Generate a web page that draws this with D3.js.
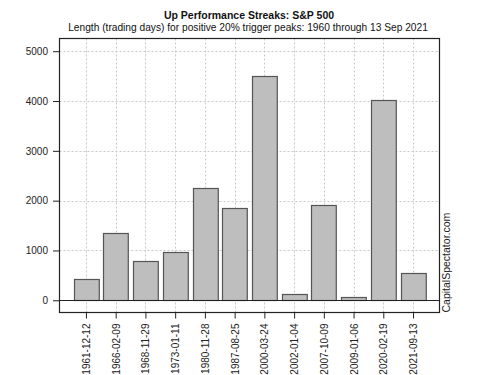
<!DOCTYPE html>
<html>
<head>
<meta charset="utf-8">
<script src="https://cdn.jsdelivr.net/npm/d3@7"></script>
<style>
  body { margin: 0; background: #fff; }
  text { font-family: "Liberation Sans", Arial, sans-serif; }
</style>
</head>
<body>
<script>
// Peak dates and streak lengths (trading days)
var dates = ["1961-12-12", "1966-02-09", "1968-11-29", "1973-01-11", "1980-11-28", "1987-08-25",
             "2000-03-24", "2002-01-04", "2007-10-09", "2009-01-06", "2020-02-19", "2021-09-13"];
var days = [425, 1347, 790, 977, 2260, 1846, 4500, 124, 1913, 64, 4012, 557];
var yTicks = [0, 1000, 2000, 3000, 4000, 5000];

var w = 500, h = 375;
// plot box edges (note: "top" is reserved on window, so use pl/pr/pt/pb)
var pl = 59.5, pr = 439.5, pt = 38.5, pb = 312.5;

var svg = d3.select("body").append("svg")
    .attr("width", w)
    .attr("height", h);

// x in barplot units: bars of width 1 with 0.2 gaps
var xScale = d3.scaleLinear()
    .domain([-0.368, 14.968])
    .range([pl, pr]);

var yScale = d3.scaleLinear()
    .domain([-245, 5255])
    .range([pb, pt]);

function barLeft(i) { return 0.2 + i * 1.2; }
function barMid(i) { return barLeft(i) + 0.5; }

// grid lines (dotted)
svg.append("g").selectAll("line")
    .data(yTicks)
    .enter().append("line")
    .attr("x1", pl).attr("x2", pr)
    .attr("y1", function(d) { return Math.round(yScale(d)) + 0.5; })
    .attr("y2", function(d) { return Math.round(yScale(d)) + 0.5; })
    .attr("stroke", "#c8c8c8")
    .attr("stroke-dasharray", "2,2");

svg.append("g").selectAll("line")
    .data(dates)
    .enter().append("line")
    .attr("x1", function(d, i) { return Math.round(xScale(barMid(i))) + 0.5; })
    .attr("x2", function(d, i) { return Math.round(xScale(barMid(i))) + 0.5; })
    .attr("y1", pt).attr("y2", pb)
    .attr("stroke", "#c8c8c8")
    .attr("stroke-dasharray", "2,2");

// bars
svg.append("g").selectAll("rect")
    .data(days)
    .enter().append("rect")
    .attr("x", function(d, i) { return Math.round(xScale(barLeft(i))) + 0.5; })
    .attr("width", xScale(1) - xScale(0))
    .attr("y", function(d) { return Math.round(yScale(d)) + 0.5; })
    .attr("height", function(d) { return Math.round(yScale(0)) - Math.round(yScale(d)); })
    .attr("fill", "#bebebe")
    .attr("stroke", "#555")
    .attr("stroke-width", 1.2);

// zero line
svg.append("line")
    .attr("x1", pl).attr("x2", pr)
    .attr("y1", Math.round(yScale(0)) + 0.5)
    .attr("y2", Math.round(yScale(0)) + 0.5)
    .attr("stroke", "#222")
    .attr("stroke-width", 1.2);

// box
svg.append("rect")
    .attr("x", pl).attr("y", pt)
    .attr("width", pr - pl).attr("height", pb - pt)
    .attr("fill", "none")
    .attr("stroke", "#222")
    .attr("stroke-width", 1.2);

// y axis
var yAxis = d3.axisLeft(yScale)
    .tickValues(yTicks)
    .tickSize(6)
    .tickPadding(5)
    .tickFormat(d3.format("d"));
var gy = svg.append("g")
    .attr("transform", "translate(" + (pl - 0.5) + ",0)")
    .call(yAxis);
gy.select(".domain").remove();
gy.selectAll("line").attr("stroke", "#222");
gy.selectAll("text")
    .attr("font-size", "10px")
    .attr("fill", "#222")
    .attr("font-family", "Liberation Sans, Arial, sans-serif");

// x axis with rotated date labels
var xAxis = d3.axisBottom(xScale)
    .tickValues(dates.map(function(d, i) { return barMid(i); }))
    .tickSize(6)
    .tickFormat(function(d, i) { return dates[i]; });
var gx = svg.append("g")
    .attr("transform", "translate(0," + pb + ")")
    .call(xAxis);
gx.select(".domain").remove();
gx.selectAll("line").attr("stroke", "#222");
gx.selectAll("text")
    .attr("font-size", "10px")
    .attr("fill", "#222")
    .attr("font-family", "Liberation Sans, Arial, sans-serif")
    .attr("transform", "rotate(-90)")
    .attr("text-anchor", "end")
    .attr("x", -11)
    .attr("y", 0)
    .attr("dy", "0.35em");

// titles
svg.append("text")
    .attr("x", 249).attr("y", 19)
    .attr("text-anchor", "middle")
    .attr("font-size", "10.5px")
    .attr("font-weight", "bold")
    .attr("fill", "#111")
    .text("Up Performance Streaks: S&P 500");

svg.append("text")
    .attr("x", 248).attr("y", 30.5)
    .attr("text-anchor", "middle")
    .attr("font-size", "10.2px")
    .attr("fill", "#111")
    .text("Length (trading days) for positive 20% trigger peaks: 1960 through 13 Sep 2021");

// side credit
svg.append("text")
    .attr("transform", "translate(450," + pb + ") rotate(-90)")
    .attr("text-anchor", "start")
    .attr("font-size", "10.5px")
    .attr("fill", "#222")
    .text("CapitalSpectator.com");
</script>
</body>
</html>
